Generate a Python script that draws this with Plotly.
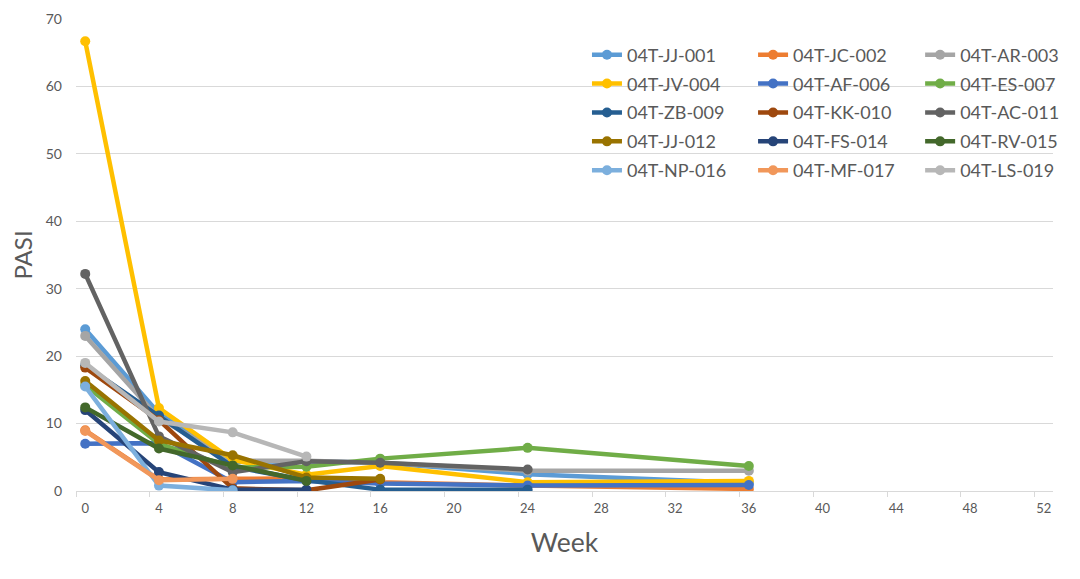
import plotly.graph_objects as go

# PASI score per patient at each study week (None = no visit)
weeks = [0, 4, 8, 12, 16, 24, 36]

jj_001 = [24.0, 11.5, 4.3, 4.4, 4.2, 2.5, 1.2]
jc_002 = [9.0, 1.7, 1.8, 1.9, 1.3, 0.8, 0.3]
ar_003 = [23.0, 10.8, 4.5, 4.5, 4.2, 3.0, 3.0]
jv_004 = [66.7, 12.3, 4.6, 2.4, 3.7, 1.3, 1.5]
af_006 = [7.0, 7.1, 1.3, 1.5, 1.1, 0.8, 0.9]
es_007 = [15.7, 7.0, 3.5, 3.6, 4.8, 6.4, 3.7]
zb_009 = [18.6, 11.2, 3.6, 1.6, 0.2, 0.2, None]
kk_010 = [18.3, 10.5, 0.4, 0.1, 1.7, None, None]
ac_011 = [32.2, 8.1, 2.8, 4.4, 4.2, 3.2, None]
jj_012 = [16.3, 7.5, 5.3, 2.0, 1.8, None, None]
fs_014 = [12.0, 2.8, 0.2, 0.2, None, None, None]
rv_015 = [12.4, 6.3, 3.8, 1.5, None, None, None]
np_016 = [15.5, 0.8, 0.1, None, None, None, None]
mf_017 = [8.9, 1.6, 1.8, None, None, None, None]
ls_019 = [19.0, 10.3, 8.7, 5.1, None, None, None]

patients = ["04T-JJ-001", "04T-JC-002", "04T-AR-003", "04T-JV-004", "04T-AF-006",
            "04T-ES-007", "04T-ZB-009", "04T-KK-010", "04T-AC-011", "04T-JJ-012",
            "04T-FS-014", "04T-RV-015", "04T-NP-016", "04T-MF-017", "04T-LS-019"]
series = [jj_001, jc_002, ar_003, jv_004, af_006, es_007, zb_009, kk_010,
          ac_011, jj_012, fs_014, rv_015, np_016, mf_017, ls_019]
colors = ["#5B9BD5", "#ED7D31", "#A5A5A5", "#FFC000", "#4472C4", "#70AD47",
          "#255E91", "#9E480E", "#636363", "#997300", "#264478", "#43682B",
          "#7CAFDD", "#F1975A", "#B7B7B7"]

x_ticks = list(range(0, 53, 4))
y_ticks = list(range(0, 71, 10))

# legend laid out in three columns, filled row by row like the original
legend_ids = ["legend", "legend2", "legend3"]

fig = go.Figure()
for i, (name, vals, col) in enumerate(zip(patients, series, colors)):
    fig.add_trace(go.Scatter(
        x=weeks, y=vals, name=name, mode="lines+markers",
        connectgaps=True,
        line=dict(color=col, width=4.5),
        marker=dict(color=col, size=10),
        legend=legend_ids[i % 3],
        legendgroup=name,  # one group per trace so tracegroupgap spaces the rows
    ))

leg_style = dict(
    y=0.963, yanchor="top", xanchor="left",
    font=dict(size=18, color="#595959"),
    bgcolor="rgba(0,0,0,0)", itemwidth=30, tracegroupgap=2.5,
)

fig.update_layout(
    width=1080, height=579,
    paper_bgcolor="white", plot_bgcolor="white",
    margin=dict(l=68, r=35, t=11, b=96),
    font=dict(family="Lato, Open Sans, sans-serif", color="#595959"),
    showlegend=True,
    legend=dict(x=0.523, **leg_style),
    legend2=dict(x=0.693, **leg_style),
    legend3=dict(x=0.864, **leg_style),
    xaxis=dict(
        range=[-0.5, 52.5], tickvals=x_ticks, showgrid=False, zeroline=False,
        showline=True, linecolor="#D9D9D9", linewidth=1, automargin=False,
        tickfont=dict(size=13, color="#595959"), ticklabelstandoff=5,
        minor=dict(ticks="outside", ticklen=5, tick0=-0.5, dtick=4,
                   tickcolor="#D9D9D9", showgrid=False),
        title=dict(text="Week", font=dict(size=26.5, color="#595959"), standoff=18),
    ),
    yaxis=dict(
        range=[0, 70], tickvals=y_ticks, showgrid=True, gridcolor="#D9D9D9",
        zeroline=False, showline=False, automargin=False,
        tickfont=dict(size=14, color="#595959"), ticklabelstandoff=13,
        title=dict(text="PASI", font=dict(size=24, color="#595959"), standoff=9),
    ),
)

fig.write_html("out.html")
